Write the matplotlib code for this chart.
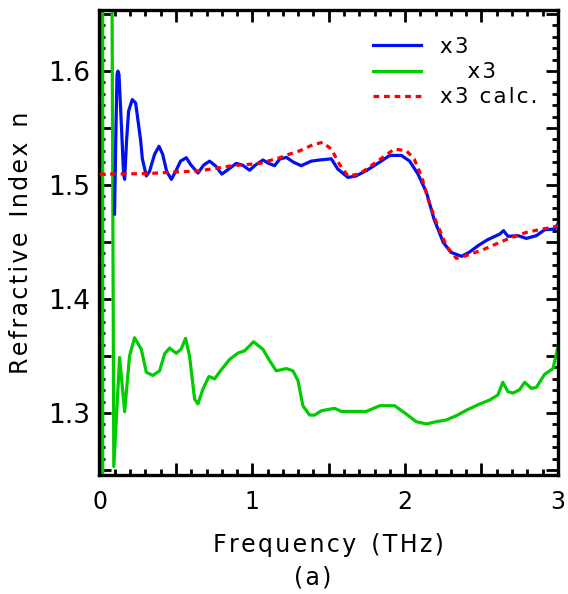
import numpy as np
import matplotlib
matplotlib.use("Agg")
import matplotlib.pyplot as plt
from matplotlib.ticker import MultipleLocator, FuncFormatter

plt.rcParams["font.family"] = ["DejaVu Sans"]

# measured x3 (blue)
f_meas = [0.098, 0.107, 0.114, 0.12, 0.127, 0.144, 0.157, 0.164, 0.177, 0.19,
          0.214, 0.236, 0.255, 0.268, 0.28, 0.306, 0.327, 0.36, 0.389, 0.413,
          0.439, 0.47, 0.498, 0.53, 0.568, 0.596, 0.644, 0.681, 0.72, 0.76,
          0.80, 0.845, 0.895, 0.936, 0.982, 1.02, 1.07, 1.107, 1.146, 1.179,
          1.223, 1.27, 1.32, 1.386, 1.44, 1.517, 1.56, 1.626, 1.68, 1.75,
          1.81, 1.90, 1.976, 2.03, 2.085, 2.14, 2.19, 2.25, 2.30, 2.37,
          2.42, 2.48, 2.54, 2.62, 2.645, 2.674, 2.74, 2.794, 2.86, 2.914,
          2.98, 3.01]
n_meas = [1.4746, 1.549, 1.597, 1.600, 1.597, 1.549, 1.5096, 1.505, 1.540, 1.565,
          1.575, 1.572, 1.553, 1.540, 1.523, 1.508, 1.512, 1.527, 1.534, 1.527,
          1.512, 1.505, 1.512, 1.521, 1.524, 1.518, 1.5105, 1.5175, 1.521, 1.5167,
          1.5096, 1.514, 1.519, 1.5175, 1.513, 1.5175, 1.522, 1.519, 1.517, 1.5228,
          1.5243, 1.520, 1.517, 1.521, 1.522, 1.523, 1.514, 1.5067, 1.508, 1.513,
          1.518, 1.526, 1.526, 1.521, 1.5096, 1.4936, 1.470, 1.4497, 1.441, 1.4375,
          1.441, 1.447, 1.452, 1.457, 1.460, 1.455, 1.4556, 1.4532, 1.4556, 1.4608,
          1.4614, 1.468]

# second sample x3 (green)
f_other = [0.0, 0.02, 0.02, 0.072, 0.093, 0.131, 0.164, 0.196, 0.229, 0.273,
           0.306, 0.349, 0.393, 0.426, 0.458, 0.502, 0.534, 0.563, 0.589, 0.622,
           0.644, 0.677, 0.716, 0.753, 0.797, 0.851, 0.906, 0.95, 1.008, 1.069,
           1.113, 1.157, 1.223, 1.266, 1.299, 1.331, 1.375, 1.408, 1.452, 1.539,
           1.583, 1.746, 1.834, 1.932, 2.008, 2.073, 2.14, 2.205, 2.27, 2.336,
           2.41, 2.49, 2.554, 2.608, 2.64, 2.674, 2.707, 2.75, 2.783, 2.827,
           2.86, 2.914, 2.969, 3.01]
n_other = [1.0, 1.0, 2.0, 2.0, 1.253, 1.3488, 1.3011, 1.350, 1.366, 1.356,
           1.3357, 1.333, 1.337, 1.352, 1.357, 1.3524, 1.356, 1.3655, 1.350, 1.3123,
           1.308, 1.3211, 1.332, 1.330, 1.338, 1.347, 1.3526, 1.3546, 1.3625, 1.356,
           1.346, 1.337, 1.339, 1.337, 1.3284, 1.3064, 1.2982, 1.2982, 1.302, 1.3041,
           1.3014, 1.3014, 1.3064, 1.3064, 1.2991, 1.2924, 1.2904, 1.2924, 1.2939, 1.2977,
           1.303, 1.308, 1.3114, 1.3158, 1.327, 1.3187, 1.3175, 1.3204, 1.327, 1.3216,
           1.3225, 1.334, 1.339, 1.3634]

# calculated x3 (red dotted)
f_calc = [0.0, 0.3, 0.655, 0.87, 1.05, 1.18, 1.24, 1.31, 1.397, 1.46,
          1.517, 1.572, 1.626, 1.70, 1.81, 1.93, 2.01, 2.06, 2.107, 2.15,
          2.205, 2.27, 2.336, 2.40, 2.51, 2.66, 2.794, 2.90, 2.99, 3.01]
n_calc = [1.5096, 1.510, 1.5125, 1.517, 1.519, 1.524, 1.527, 1.530, 1.5354, 1.5375,
          1.5316, 1.518, 1.508, 1.5096, 1.52, 1.5316, 1.530, 1.5228, 1.508, 1.4877,
          1.4673, 1.4468, 1.4357, 1.438, 1.4433, 1.452, 1.4585, 1.4614, 1.4638, 1.464]

labels = ["x3", "    x3", "x3 calc."]

HS = "\u200a"  # hair space, to mimic the loose letter spacing of the original


def spaced(s):
    # letter-space each word, keep a wide gap between words
    return "  ".join(HS.join(w) for w in s.split(" "))


fig = plt.figure(figsize=(5.68, 5.94), dpi=100)
ax = fig.add_axes([0.174, 0.2003, 0.808, 0.7827])

lw = 2.3
ax.plot(f_meas, n_meas, color="#0010f0", lw=lw, solid_joinstyle="round", label=spaced(labels[0]), zorder=3)
ax.plot(f_other, n_other, color="#00cc00", lw=lw, solid_joinstyle="round", label="    " + spaced("x3"), zorder=2)
ax.plot(f_calc, n_calc, color="#ff0000", lw=lw, linestyle=(0, (1.8, 1.5)), label=HS.join(labels[2]), zorder=4)

ax.set_xlim(-0.005, 3.0)
ax.set_ylim(1.2456, 1.6535)

ax.xaxis.set_major_locator(MultipleLocator(0.5))
ax.xaxis.set_minor_locator(MultipleLocator(0.1))
ax.yaxis.set_major_locator(MultipleLocator(0.05))
ax.yaxis.set_minor_locator(MultipleLocator(0.01))
ax.xaxis.set_major_formatter(FuncFormatter(lambda v, p: f"{v:.0f}" if abs(v - round(v)) < 1e-6 else ""))
ax.yaxis.set_major_formatter(FuncFormatter(lambda v, p: f"{v:.1f}" if abs(v * 10 - round(v * 10)) < 1e-6 else ""))

ax.tick_params(which="both", direction="in", top=True, right=True, width=2, colors="black")
ax.tick_params(which="major", length=8.5)
ax.tick_params(which="minor", length=4.5)
ax.tick_params(axis="x", labelsize=17, pad=11)
ax.tick_params(axis="y", labelsize=19, pad=6)
for s in ax.spines.values():
    s.set_linewidth(2.4)

ax.set_xlabel(HS.join("Frequency") + "  " + HS.join("(THz)"), fontsize=17)
ax.xaxis.set_label_coords(0.5, -0.125)
ax.set_ylabel(spaced("Refractive Index n"), fontsize=17)
ax.yaxis.set_label_coords(-0.144, 0.5)
fig.text(0.551, 0.0286, HS.join("(a)"), fontsize=17, ha="center", va="center")

ax.legend(loc="upper left", bbox_to_anchor=(0.657, 0.9377), bbox_transform=fig.transFigure,
          frameon=False, fontsize=15.5, handlelength=2.2, handletextpad=0.9,
          labelspacing=0.24, borderpad=0, borderaxespad=0)

fig.savefig("out.png", dpi=100, facecolor="white")
